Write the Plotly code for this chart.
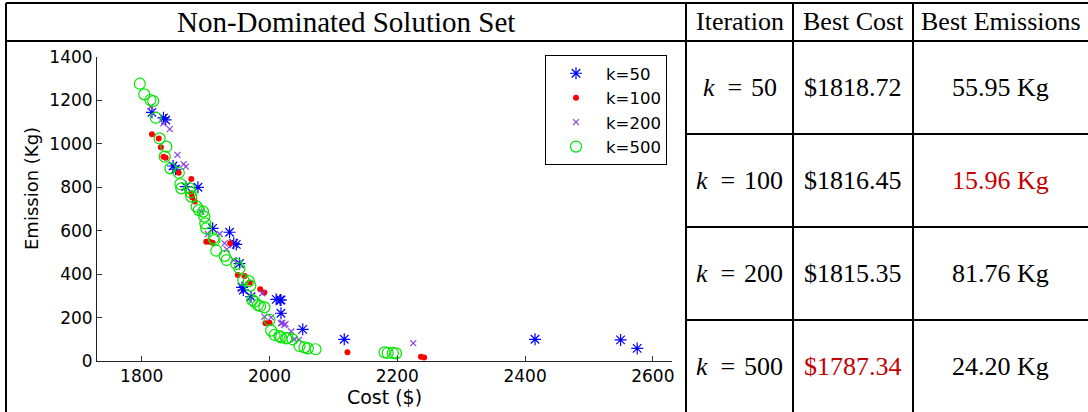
import plotly.graph_objects as go

# ---------------- data ----------------
k50_cost = [1816, 1834, 1837.5, 1849, 1853, 1869, 1888, 1911, 1937.5, 1944, 1948, 1953, 1957, 1959,
            1971, 2010.5, 2016.7, 2018, 2018, 2052, 2117, 2415.6, 2549.5, 2575.5]
k50_em = [1145, 1120, 1110, 898, 883, 803, 800, 611, 593, 542, 537, 449, 339, 327,
          296, 284, 281, 220, 281, 146, 100, 100, 97, 58]

k100_cost = [1816, 1826.6, 1830, 1834, 1837.5, 1858, 1877.6, 1877.6, 1879, 1883, 1901, 1906, 1911,
             1938.5, 1950.5, 1961, 1969, 1985.5, 1992, 1993.7, 2000, 2122, 2237, 2242]
k100_em = [1044, 1025, 984, 941, 936, 867, 838, 772, 754, 734, 549, 549, 545,
           542, 396, 391, 361, 330, 316, 174, 176, 40, 20, 16]

k200_cost = [1814, 1834, 1844, 1856, 1865.6, 1869, 1893, 1903.6, 1922, 1929.7, 1933, 1944, 1988.6,
             1992, 2002.6, 2018, 2023, 2020, 2025, 2034, 2039, 2046, 2225]
k200_em = [1171, 1094, 1068, 949, 907, 895, 688, 585, 585, 542, 514, 465, 312,
           204, 201, 174, 166, 176, 170, 136, 100, 97, 82]

k500_cost = [1797, 1804, 1813.5, 1818, 1822, 1828, 1838.5, 1836, 1845, 1858, 1860.5, 1862, 1875,
             1876.5, 1877.6, 1886, 1889.5, 1896, 1898, 1899.5, 1901, 1912.5, 1914, 1916.7, 1929.7,
             1933, 1948, 1953, 1959, 1967.6, 1970, 1973, 1976.5, 1981.7, 1985.5, 1992, 2000,
             2002.6, 2008, 2015.6, 2018, 2026, 2028, 2036, 2047, 2054.7, 2060, 2072,
             2180, 2185, 2193, 2198]
k500_em = [1277, 1228, 1202, 1197, 1120, 1025, 987, 941, 887, 867, 815, 795, 795,
           777, 757, 711, 695, 688, 665, 634, 611, 565, 557, 508, 484,
           465, 447, 427, 373, 368, 347, 281, 273, 258, 253, 247, 189,
           140, 120, 115, 109, 104, 106, 100, 69, 63, 58, 54,
           40, 37, 37, 35]

x_ticks = [1800, 2000, 2200, 2400, 2600]
y_ticks = [0, 200, 400, 600, 800, 1000, 1200, 1400]

title_text = "Non-Dominated Solution Set"
table_header = ["Iteration", "Best Cost", "Best Emissions"]
iterations = [50, 100, 200, 500]
best_cost = [1818.72, 1816.45, 1815.35, 1787.34]
best_emissions = [55.95, 15.96, 81.76, 24.20]

# ---------------- figure ----------------
W, H = 1088, 412


def px(x):
    return x / W


def py(y):
    return 1 - y / H


fig = go.Figure()

series = [
    ("k=50", k50_cost, k50_em, dict(symbol="asterisk-open", size=10, color="#0000ff",
                                   line=dict(color="#0000ff", width=1.2))),
    ("k=100", k100_cost, k100_em, dict(symbol="circle", size=6, color="#ff0000",
                                     line=dict(width=0))),
    ("k=200", k200_cost, k200_em, dict(symbol="x-thin-open", size=6, color="#8a3ee6",
                                     line=dict(color="#8a3ee6", width=1.2))),
    ("k=500", k500_cost, k500_em, dict(symbol="circle-open", size=11, color="#00e600",
                                     line=dict(color="#00e600", width=1.2))),
]
for i, (name, xs, ys, mk) in enumerate(series):
    fig.add_trace(go.Scatter(x=xs, y=ys, mode="markers", name=name, marker=mk,
                             legendgroup=f"g{i}"))

chart_font = "DejaVu Sans"
table_font = "Liberation Serif"

fig.update_layout(
    width=W, height=H,
    margin=dict(l=0, r=0, t=0, b=0, pad=0, autoexpand=False),
    paper_bgcolor="white", plot_bgcolor="white",
    showlegend=True,
    legend=dict(x=px(545), y=py(55), xanchor="left", yanchor="top",
                bordercolor="black", borderwidth=1, bgcolor="white",
                font=dict(family=chart_font, size=16.5, color="black"),
                itemwidth=50, tracegroupgap=0),
    xaxis=dict(domain=[px(97), px(672)], range=[1730, 2630], automargin=False,
               tickvals=x_ticks, ticks="inside", ticklen=5, tickcolor="#333",
               showline=True, linecolor="#222", linewidth=1, showgrid=False, zeroline=False,
               tickfont=dict(family=chart_font, size=17, color="black"),
               title=dict(text="Cost ($)", font=dict(family=chart_font, size=19, color="black"),
                          standoff=3)),
    yaxis=dict(domain=[py(361), py(57)], range=[0, 1400], automargin=False,
               tickvals=y_ticks, ticks="inside", ticklen=5, tickcolor="#333",
               showline=True, linecolor="#222", linewidth=1, showgrid=False, zeroline=False,
               tickfont=dict(family=chart_font, size=17, color="black")),
)

# y-axis title placed as in the reference
fig.add_annotation(x=px(31), y=py(189), xref="paper", yref="paper",
                   xanchor="center", yanchor="middle", textangle=-90,
                   text="Emission (Kg)", showarrow=False,
                   font=dict(family=chart_font, size=18, color="black"))

# ---------------- table borders ----------------
LW = 2
lines = [
    (6, 3, W, 3),
    (6, 3, 6, H),
    (6, 41, W, 41),
    (686, 3, 686, H),
    (793, 3, 793, H),
    (913, 3, 913, H),
    (686, 134, W, 134),
    (686, 227, W, 227),
    (686, 320, W, 320),
]
for x0, y0, x1, y1 in lines:
    fig.add_shape(type="line", xref="paper", yref="paper",
                  x0=px(x0), y0=py(y0), x1=px(x1), y1=py(y1),
                  line=dict(color="black", width=LW))

# ---------------- table text ----------------
col_centers = [739.5, 853, 1000.5]
header_y = 22
row_top = 41
row_h = 93


def put(x, y, text, size, color="black"):
    fig.add_annotation(x=px(x), y=py(y), xref="paper", yref="paper",
                       xanchor="center", yanchor="middle",
                       text=text, showarrow=False,
                       font=dict(family=table_font, size=size, color=color))


put(346, header_y, title_text, 29)
for cx, t in zip(col_centers, table_header):
    put(cx, header_y, t, 26)

min_cost = min(best_cost)
min_em = min(best_emissions)
red = "#c40000"
for i, (k, c, e) in enumerate(zip(iterations, best_cost, best_emissions)):
    cy = row_top + row_h * i + row_h / 2
    put(col_centers[0], cy, f"<i>k</i>\u2002=\u2004{k}", 26)
    put(col_centers[1], cy, f"${c:.2f}", 26, red if c == min_cost else "black")
    put(col_centers[2], cy, f"{e:.2f} Kg", 26, red if e == min_em else "black")

fig.write_html(
    "out.html",
    config={"displayModeBar": False},
    post_script="document.body.style.margin='0';document.body.style.padding='0';"
                "document.body.style.overflow='hidden';",
)
